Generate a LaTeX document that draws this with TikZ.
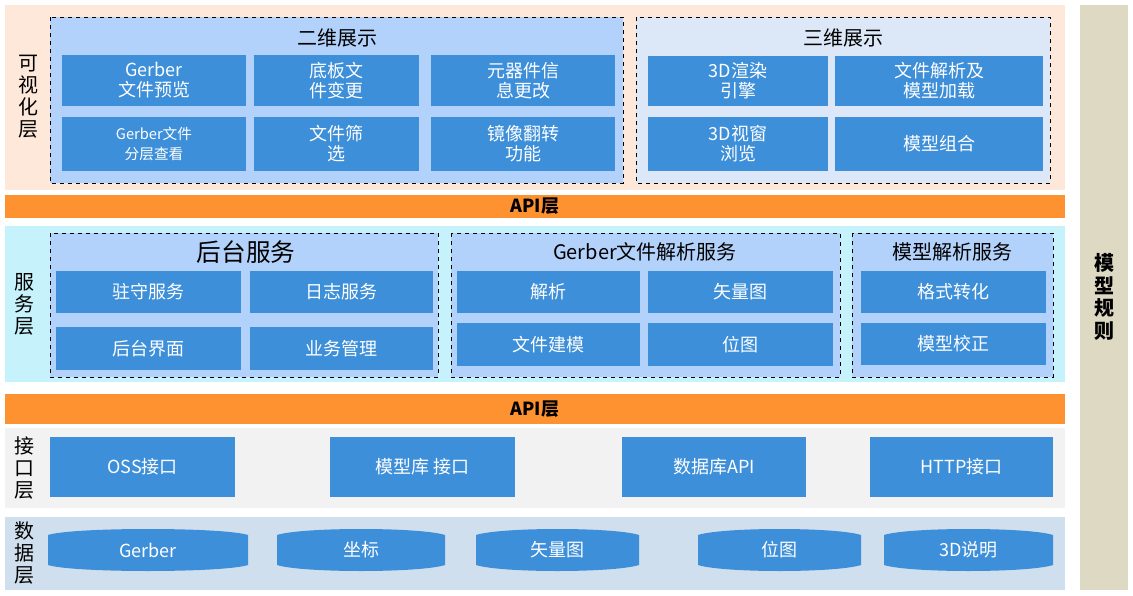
\documentclass[tikz,border=0pt]{standalone}
\usepackage{fontspec}
\setmainfont{Noto Sans CJK SC}
\begin{document}
\begin{tikzpicture}[x=0.75pt,y=-0.75pt,
  bx/.style={fill=boxblue,draw=none,text=white,align=center,font=\fontsize{13.5}{15}\selectfont,inner sep=0pt},
  grp/.style={draw=black,dashed,line width=0.6pt},
  side/.style={align=center,font=\fontsize{15}{16.5}\selectfont},
  title/.style={font=\fontsize{15}{17}\selectfont}]
\definecolor{boxblue}{HTML}{3D8FD9}
\definecolor{peach}{HTML}{FDE8DA}
\definecolor{grp2d}{HTML}{B3D2FB}
\definecolor{grp3d}{HTML}{DCE8F8}
\definecolor{orng}{HTML}{FF9230}
\definecolor{cyanbg}{HTML}{C6F2FB}
\definecolor{greybg}{HTML}{F2F2F2}
\definecolor{databg}{HTML}{D0DFEE}
\definecolor{beige}{HTML}{DDD9C3}
\useasboundingbox (0,0) rectangle (1133,596);
\fill[white] (0,0) rectangle (1133,596);
% bands
\fill[peach] (5,5) rectangle (1065,190);
\fill[orng] (5,195) rectangle (1065,218);
\fill[cyanbg] (5,226) rectangle (1065,382);
\fill[orng] (5,394) rectangle (1065,424);
\fill[greybg] (5,428) rectangle (1065,508);
\fill[databg] (5,517) rectangle (1065,590);
\fill[beige] (1080,5) rectangle (1128,590);
\node[font=\fontsize{15}{17}\selectfont\bfseries,align=center] (rule) at (1104,297) {模\\型\\规\\则};
\node[font=\fontsize{13.5}{14}\selectfont\bfseries] (api1) at (535,206) {API层};
\node[font=\fontsize{13.5}{14}\selectfont\bfseries] (api2) at (535,409) {API层};
% side labels
\node[side] (l1) at (28,97) {可\\视\\化\\层};
\node[side] (l2) at (24,304) {服\\务\\层};
\node[side] (l3) at (24,468) {接\\口\\层};
\node[side] (l4) at (24,553) {数\\据\\层};
% groups
\draw[grp,fill=grp2d] (50,17) rectangle (623,183);
\node[title] (t2d) at (337,38) {二维展示};
\draw[grp,fill=grp3d] (636,17) rectangle (1050,183);
\node[title] (t3d) at (843,38) {三维展示};
\draw[grp,fill=grp2d] (50,233) rectangle (438,377);
\draw[grp,fill=grp2d] (451,233) rectangle (840,377);
\draw[grp,fill=grp2d] (852,233) rectangle (1053,377);
\node[font=\fontsize{18.5}{20}\selectfont] (t1) at (246,252) {后台服务};
\node[title] (t2) at (645,252) {Gerber文件解析服务};
\node[title] (t3) at (952,252) {模型解析服务};
\foreach \n/\xa/\xb/\ya/\yb/\t in {a/62/246/55/106/{Gerber\\文件预览},b/254/419/55/106/{底板文\\件变更},c/431/615/55/106/{元器件信\\息更改},
  d/62/246/117/171/{\fontsize{11}{12.5}\selectfont Gerber文件\\\fontsize{11}{12.5}\selectfont 分层查看},e/254/419/117/171/{文件筛\\选},f/431/615/117/171/{镜像翻转\\功能},
  g/648/828/56/106/{3D渲染\\引擎},h/835/1043/56/106/{文件解析及\\模型加载},i/648/828/117/171/{3D视窗\\浏览},j/835/1043/117/171/{模型组合},
  s1/56/241/271/313/{驻守服务},s2/250/433/271/313/{日志服务},s3/56/241/327/370/{后台界面},s4/250/433/327/370/{业务管理},
  s5/457/640/271/313/{解析},s6/648/833/271/313/{矢量图},s7/457/640/323/366/{文件建模},s8/648/833/323/366/{位图},
  s9/861/1046/271/313/{格式转化},s10/861/1046/323/365/{模型校正},
  i1/50/235/437/497/{OSS接口},i2/330/515/437/497/{模型库 接口},i3/622/806/437/497/{数据库API},i4/870/1053/437/497/{HTTP接口}}
{
  \node[bx,minimum width={(\xb-\xa)*0.75pt},minimum height={(\yb-\ya)*0.75pt}] (\n) at ({(\xa+\xb)/2},{(\ya+\yb)/2}) {\t};
}
% data cylinders
\foreach \n/\xa/\xb/\t in {d1/48/248/Gerber,d2/277/445/坐标,d3/476/639/矢量图,d4/698/861/位图,d5/884/1053/3D说明}{
  \fill[boxblue] (\xa,535) .. controls ({\xa+25},527) and ({\xb-25},527) .. (\xb,535) -- (\xb,565) .. controls ({\xb-25},573) and ({\xa+25},573) .. (\xa,565) -- cycle;
  \node[text=white,font=\fontsize{13.5}{15}\selectfont] (\n) at ({(\xa+\xb)/2},550) {\t};
}
\end{tikzpicture}
\end{document}
